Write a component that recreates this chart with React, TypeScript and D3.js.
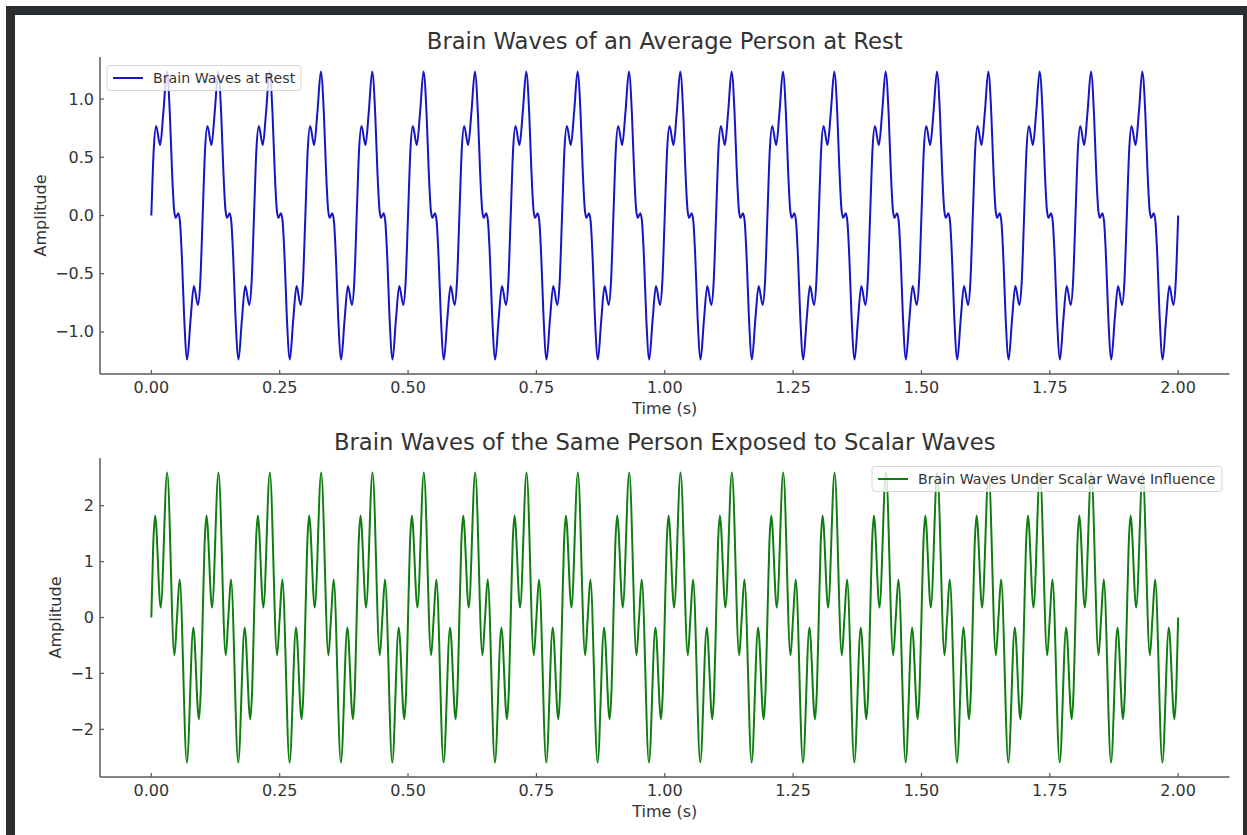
import React from 'react';
import * as d3 from 'd3';

// time axis (seconds) and tick labels
const xTicks = [0, 0.25, 0.5, 0.75, 1.0, 1.25, 1.5, 1.75, 2.0];
const restTicks = [-1.0, -0.5, 0, 0.5, 1.0];
const scalarTicks = [-2, -1, 0, 1, 2];

// the wave repeats every 0.1 s; start of each cycle
const cycleStarts = [0, 0.1, 0.2, 0.3, 0.4, 0.5, 0.6, 0.7, 0.8, 0.9, 1.0, 1.1, 1.2, 1.3, 1.4, 1.5, 1.6, 1.7, 1.8, 1.9];

// one cycle of the resting wave: turning points and a few in-between points (time within cycle, amplitude)
const restOffsets = [0, 0.0047, 0.0093, 0.0171, 0.0236, 0.0302, 0.0361, 0.0403, 0.0444, 0.0476, 0.0524, 0.0556, 0.0597, 0.0639, 0.0698, 0.0764, 0.0829, 0.0907, 0.0953];
const restValues = [0, 0.57, 0.768, 0.605, 0.894, 1.237, 0.869, 0.381, 0.047, -0.02, 0.02, -0.047, -0.381, -0.869, -1.237, -0.894, -0.605, -0.768, -0.57];

// one cycle of the wave under scalar influence
const scalarOffsets = [0, 0.0036, 0.0074, 0.0182, 0.0308, 0.0449, 0.05, 0.0551, 0.0692, 0.0818, 0.0926, 0.0964];
const scalarValues = [0, 1.283, 1.823, 0.177, 2.594, -0.678, 0, 0.678, -2.594, -0.177, -1.823, -1.283];

const endTime = 2.0;
const endValue = 0;

type Pt = { t: number; v: number };

function buildSeries(offsets: number[], values: number[]): Pt[] {
  const pts: Pt[] = [];
  cycleStarts.forEach(s => {
    offsets.forEach((o, i) => pts.push({ t: s + o, v: values[i] }));
  });
  pts.push({ t: endTime, v: endValue });
  return pts;
}

const W = 1247;
const H = 835;
const FONT = 'DejaVu Sans, sans-serif';
const TXT = '#333';
const SPINE = '#5a5a5a';

const x = d3.scaleLinear().domain([-0.1, 2.1]).range([100, 1229.5]);

type PanelProps = {
  top: number;
  bottom: number;
  yDomain: [number, number];
  yTicks: number[];
  fmt: (n: number) => string;
  data: Pt[];
  color: string;
  title: string;
  legend: string;
  legendRight: boolean;
  legendWidth: number;
  yLabelX: number;
};

const Panel = (p: PanelProps) => {
  const y = d3.scaleLinear().domain(p.yDomain).range([p.bottom, p.top]);
  const line = d3.line<Pt>()
    .x(d => x(d.t))
    .y(d => y(d.v))
    .curve(d3.curveMonotoneX);
  const left = x(-0.1);
  const right = x(2.1);
  const lx = p.legendRight ? right - 7.5 - p.legendWidth : left + 7;
  const ly = p.top + 8.5;
  return (
    <g>
      <text x={(left + right) / 2} y={p.top - 8} textAnchor="middle" fontSize={22.7} fill={TXT}>{p.title}</text>
      <path d={line(p.data) || ''} fill="none" stroke={p.color} strokeWidth={2} strokeLinejoin="round" />
      {/* spines */}
      <line x1={left} x2={left} y1={p.top} y2={p.bottom} stroke={SPINE} strokeWidth={1.5} />
      <line x1={left} x2={right} y1={p.bottom} y2={p.bottom} stroke={SPINE} strokeWidth={1.5} />
      {xTicks.map(t => (
        <g key={t}>
          <line x1={x(t)} x2={x(t)} y1={p.bottom} y2={p.bottom - 4} stroke={SPINE} strokeWidth={1.2} />
          <text x={x(t)} y={p.bottom + 19} textAnchor="middle" fontSize={16} fill={TXT}>{d3.format('.2f')(t)}</text>
        </g>
      ))}
      {p.yTicks.map(t => (
        <g key={t}>
          <line x1={left} x2={left + 4} y1={y(t)} y2={y(t)} stroke={SPINE} strokeWidth={1.2} />
          <text x={left - 6} y={y(t) + 5.5} textAnchor="end" fontSize={16} fill={TXT}>{p.fmt(t)}</text>
        </g>
      ))}
      <text x={(left + right) / 2} y={p.bottom + 40} textAnchor="middle" fontSize={16} fill={TXT}>Time (s)</text>
      <text transform={`translate(${p.yLabelX},${(p.top + p.bottom) / 2}) rotate(-90)`} textAnchor="middle" fontSize={16} fill={TXT}>Amplitude</text>
      {/* legend */}
      <rect x={lx} y={ly} width={p.legendWidth} height={25} rx={3} fill="#fff" fillOpacity={0.8} stroke="#d6d6d6" strokeWidth={1} />
      <line x1={lx + 6} x2={lx + 36} y1={ly + 12.5} y2={ly + 12.5} stroke={p.color} strokeWidth={2} />
      <text x={lx + 46} y={ly + 17.5} fontSize={14.2} fill={TXT}>{p.legend}</text>
    </g>
  );
};

export default function App() {
  const rest = buildSeries(restOffsets, restValues);
  const scalar = buildSeries(scalarOffsets, scalarValues);
  return (
    <svg width={W} height={H} style={{ position: 'absolute', left: 0, top: 0 }} fontFamily={FONT}>
      <rect x={0} y={0} width={W} height={H} fill="#fff" />
      {/* dark window frame around the screenshot */}
      <rect x={6} y={6} width={W - 6} height={H - 6} fill="#2b2e31" />
      <rect x={15} y={15} width={1228} height={H - 15} fill="#fff" />
      <Panel
        top={57}
        bottom={374}
        yDomain={[-1.3607, 1.3607]}
        yTicks={restTicks}
        fmt={d3.format('.1f')}
        data={rest}
        color="#1515c4"
        title="Brain Waves of an Average Person at Rest"
        legend="Brain Waves at Rest"
        legendRight={false}
        legendWidth={194}
        yLabelX={46}
      />
      <Panel
        top={458}
        bottom={777}
        yDomain={[-2.853, 2.853]}
        yTicks={scalarTicks}
        fmt={d3.format('d')}
        data={scalar}
        color="#0f7d0f"
        title="Brain Waves of the Same Person Exposed to Scalar Waves"
        legend="Brain Waves Under Scalar Wave Influence"
        legendRight={true}
        legendWidth={350}
        yLabelX={61}
      />
    </svg>
  );
}
